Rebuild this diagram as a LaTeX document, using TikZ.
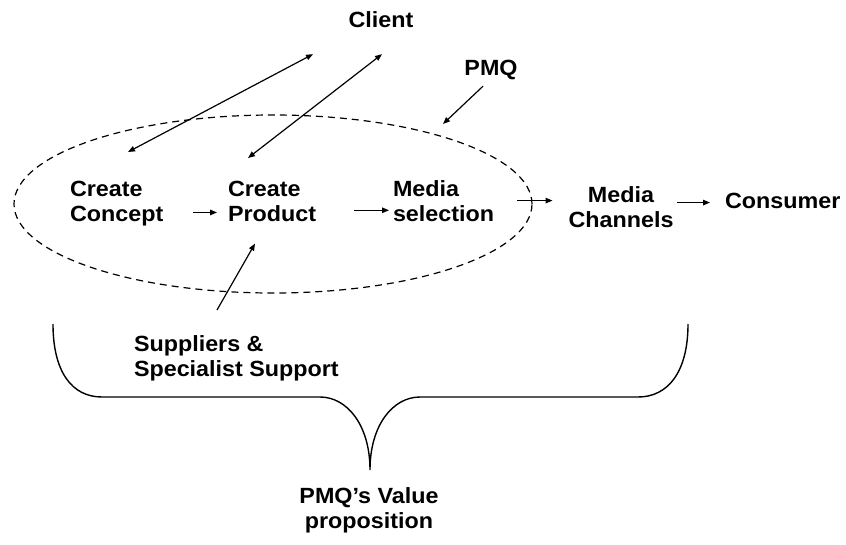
\documentclass[tikz,border=0pt]{standalone}
\usepackage{fontspec}
\setmainfont{Liberation Sans}[FakeStretch=1.06]
\usetikzlibrary{arrows.meta,calc,shapes.geometric}
\begin{document}
\begin{tikzpicture}[x=1pt,y=-1pt,
  txt/.style={font=\fontsize{22}{25}\selectfont\bfseries, inner sep=0pt, outer sep=0pt, align=left},
  arr/.style={line width=1.2pt, -{Triangle[length=7pt,width=5.5pt]}},
  darr/.style={line width=1.2pt, {Triangle[length=7pt,width=5.5pt]}-{Triangle[length=7pt,width=5.5pt]}},
  zone/.style={draw, dashed, line width=1.2pt, dash pattern=on 7pt off 5pt, ellipse, inner sep=0pt},
  bracestyle/.style={line width=1.4pt}]
\useasboundingbox (0,0) rectangle (846,544);

\node[zone, minimum width=518pt, minimum height=178pt] (pmqzone) at (273,204) {};

\node[txt, anchor=north] (client) at (381,12) {Client};
\node[txt, anchor=north] (pmq) at (491,60) {PMQ};
\node[txt, anchor=north west] (concept) at (70,181) {Create\\Concept};
\node[txt, anchor=north west] (product) at (228,181) {Create\\Product};
\node[txt, anchor=north west] (media) at (393,181) {Media\\selection};
\node[txt, align=center, anchor=north] (channels) at (621,187) {Media\\Channels};
\node[txt, anchor=north west] (consumer) at (725,193) {Consumer};
\node[txt, anchor=north west] (suppliers) at (134,336) {Suppliers \&\\Specialist Support};
\node[txt, align=center, anchor=north] (value) at (369,488) {PMQ’s Value\\proposition};

\coordinate (pmqtip) at (443,124);

% flow arrows
\draw[arr] ($(concept.east)+(30,9)$) coordinate (c1) -- ($(c1 -| product.west)+(-11,0)$);
\draw[arr] ($(product.east)+(38,9)$) coordinate (p1) -- ($(p1 -| media.west)+(-4,0)$);
\draw[arr] ($(media.east)+(23,-1)$) coordinate (m1) -- ($(m1 -| channels.west)+(-16,0)$);
\draw[arr] ($(channels.east)+(4,-5)$) coordinate (h1) -- ($(h1 -| consumer.west)+(-15,0)$);

% client arrows
\draw[darr] ($(concept.north west)+(58,-29)$) -- ($(client.south)+(-68,26)$);
\draw[darr] ($(product.north west)+(20,-23)$) -- ($(client.south)+(1,26)$);

% PMQ arrow
\draw[arr] ($(pmq.south)+(-8,6.5)$) -- (pmqtip);

% suppliers arrow
\draw[arr] ($(suppliers.north west)+(83,-26)$) -- ($(product.south west)+(27,22)$);

% brace
\draw[bracestyle] (53,324) .. controls (53,372) and (72,397) .. (102,397)
  -- (320,397) .. controls (347,397) and (370,425) .. (370,470)
  .. controls (370,425) and (393,397) .. (420,397)
  -- (638,397) .. controls (668,397) and (688,372) .. (688,324);
\end{tikzpicture}
\end{document}
